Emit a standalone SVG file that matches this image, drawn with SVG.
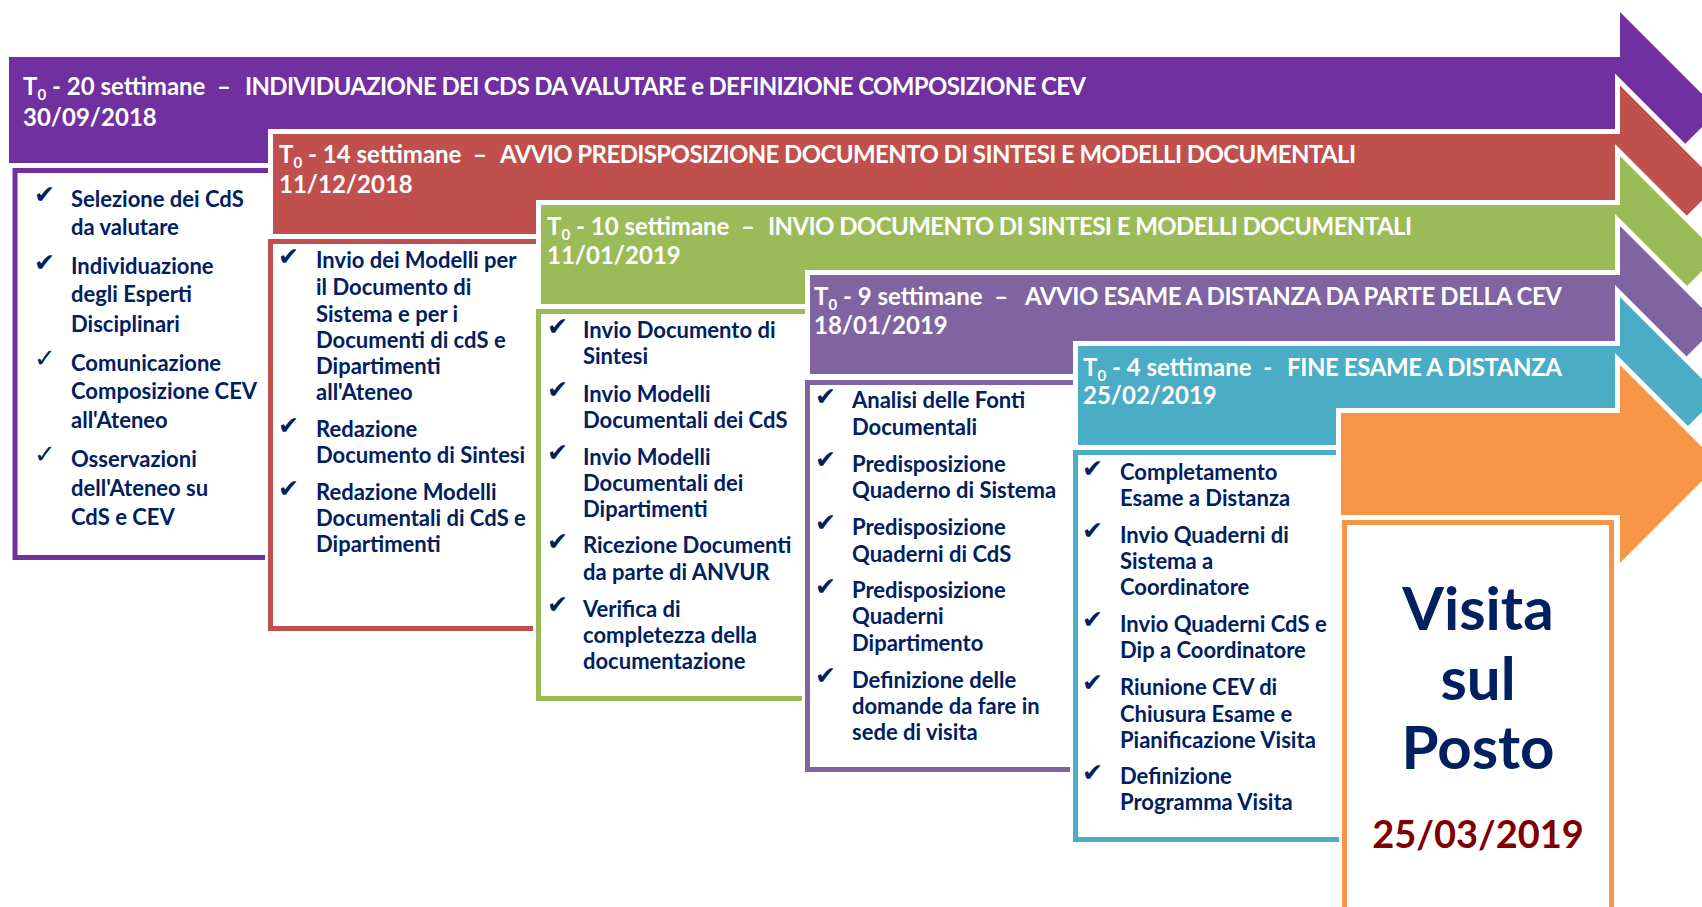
<svg xmlns="http://www.w3.org/2000/svg" width="1702" height="907" viewBox="0 0 1702 907">
<style>
.arrow { stroke: #ffffff; stroke-width: 10; paint-order: stroke; stroke-linejoin: miter; }
.halo { fill: #ffffff; stroke: #ffffff; stroke-width: 11; }
.box { fill: #ffffff; stroke-width: 5; }
.hd { font-family: Lato, "Open Sans", "Liberation Sans", sans-serif; font-weight: bold; font-size: 24px; fill: #ffffff; white-space: pre; }
.sub { font-size: 15px; }
.li { font-family: Lato, "Open Sans", "Liberation Sans", sans-serif; font-weight: bold; font-size: 22px; fill: #002060; }
.ck { font-family: "DejaVu Sans", sans-serif; font-size: 25px; fill: #002060; }
.ckl { font-family: "DejaVu Sans", sans-serif; font-size: 26px; fill: #002060; }
.big { font-family: Lato, "Open Sans", "Liberation Sans", sans-serif; font-weight: bold; font-size: 60px; fill: #002060; text-anchor: middle; }
.date { font-family: Lato, "Open Sans", "Liberation Sans", sans-serif; font-weight: bold; font-size: 38px; fill: #7F0000; text-anchor: middle; }
</style>
<rect width="1702" height="907" fill="#ffffff"/>

<g id="stage1">
<polygon class="arrow" fill="#7030A0" points="9,57 1620,57 1620,12 1718.5,110.5 1620,209 1620,163 9,163"/>
<text class="hd" x="23" y="95">T<tspan class="sub" dy="5">0</tspan><tspan dy="-5"> - 20 settimane  –</tspan></text>
<text class="hd" x="245" y="95" textLength="841" lengthAdjust="spacing">INDIVIDUAZIONE DEI CDS DA VALUTARE e DEFINIZIONE COMPOSIZIONE CEV</text>
<text class="hd" x="23" y="126">30/09/2018</text>
<rect class="halo" x="15" y="170.5" width="275" height="387"/>
<rect class="box" stroke="#7030A0" x="15" y="170.5" width="275" height="387"/>
<text class="ck" x="34" y="203">✔</text>
<text class="li" x="71" y="206.7">Selezione dei CdS</text>
<text class="li" x="71" y="235">da valutare</text>
<text class="ck" x="34" y="271">✔</text>
<text class="li" x="71" y="274">Individuazione</text>
<text class="li" x="71" y="302">degli Esperti</text>
<text class="li" x="71" y="331.7">Disciplinari</text>
<text class="ckl" x="34" y="367">✓</text>
<text class="li" x="71" y="370.7">Comunicazione</text>
<text class="li" x="71" y="399">Composizione CEV</text>
<text class="li" x="71" y="428">all'Ateneo</text>
<text class="ckl" x="34" y="463">✓</text>
<text class="li" x="71" y="467">Osservazioni</text>
<text class="li" x="71" y="496">dell'Ateneo su</text>
<text class="li" x="71" y="525">CdS e CEV</text>
</g>

<g id="stage2">
<polygon class="arrow" fill="#C0504D" points="273,134 1620,134 1620,85.5 1718.5,184 1620,282.5 1620,234 273,234"/>
<text class="hd" x="279" y="163">T<tspan class="sub" dy="5">0</tspan><tspan dy="-5"> - 14 settimane  –</tspan></text>
<text class="hd" x="500" y="163" textLength="856" lengthAdjust="spacing">AVVIO PREDISPOSIZIONE DOCUMENTO DI SINTESI E MODELLI DOCUMENTALI</text>
<text class="hd" x="279" y="193">11/12/2018</text>
<rect class="halo" x="270.5" y="241.5" width="280" height="387"/>
<rect class="box" stroke="#C0504D" x="270.5" y="241.5" width="280" height="387"/>
<text class="ck" x="278" y="265">✔</text>
<text class="li" x="316" y="268.3">Invio dei Modelli per</text>
<text class="li" x="316" y="295">il Documento di</text>
<text class="li" x="316" y="321.7">Sistema e per i</text>
<text class="li" x="316" y="347.7">Documenti di cdS e</text>
<text class="li" x="316" y="374">Dipartimenti</text>
<text class="li" x="316" y="400">all'Ateneo</text>
<text class="ck" x="278" y="434">✔</text>
<text class="li" x="316" y="437.3">Redazione</text>
<text class="li" x="316" y="463.3">Documento di Sintesi</text>
<text class="ck" x="278" y="497">✔</text>
<text class="li" x="316" y="500">Redazione Modelli</text>
<text class="li" x="316" y="526">Documentali di CdS e</text>
<text class="li" x="316" y="552.3">Dipartimenti</text>
</g>

<g id="stage3">
<polygon class="arrow" fill="#9BBB59" points="541,205 1620,205 1620,156 1718.5,254.5 1620,353 1620,304 541,304"/>
<text class="hd" x="547" y="235">T<tspan class="sub" dy="5">0</tspan><tspan dy="-5"> - 10 settimane  –</tspan></text>
<text class="hd" x="768" y="235" textLength="644" lengthAdjust="spacing">INVIO DOCUMENTO DI SINTESI E MODELLI DOCUMENTALI</text>
<text class="hd" x="547" y="263.5">11/01/2019</text>
<rect class="halo" x="538.5" y="311.5" width="280" height="387"/>
<rect class="box" stroke="#9BBB59" x="538.5" y="311.5" width="280" height="387"/>
<text class="ck" x="547" y="335">✔</text>
<text class="li" x="583" y="338.3">Invio Documento di</text>
<text class="li" x="583" y="364.3">Sintesi</text>
<text class="ck" x="547" y="398">✔</text>
<text class="li" x="583" y="401.7">Invio Modelli</text>
<text class="li" x="583" y="427.7">Documentali dei CdS</text>
<text class="ck" x="547" y="461">✔</text>
<text class="li" x="583" y="465">Invio Modelli</text>
<text class="li" x="583" y="491">Documentali dei</text>
<text class="li" x="583" y="517.3">Dipartimenti</text>
<text class="ck" x="547" y="550">✔</text>
<text class="li" x="583" y="553.3">Ricezione Documenti</text>
<text class="li" x="583" y="580">da parte di ANVUR</text>
<text class="ck" x="547" y="613">✔</text>
<text class="li" x="583" y="616.7">Verifica di</text>
<text class="li" x="583" y="643.3">completezza della</text>
<text class="li" x="583" y="669.3">documentazione</text>
</g>

<g id="stage4">
<polygon class="arrow" fill="#8064A2" points="810,275 1620,275 1620,226 1718.5,324.5 1620,423 1620,374 810,374"/>
<text class="hd" x="814" y="305">T<tspan class="sub" dy="5">0</tspan><tspan dy="-5"> - 9 settimane  –</tspan></text>
<text class="hd" x="1025" y="305" textLength="537" lengthAdjust="spacing">AVVIO ESAME A DISTANZA DA PARTE DELLA CEV</text>
<text class="hd" x="814" y="334.3">18/01/2019</text>
<rect class="halo" x="807.5" y="382.5" width="280" height="387"/>
<rect class="box" stroke="#8064A2" x="807.5" y="382.5" width="280" height="387"/>
<text class="ck" x="815" y="405">✔</text>
<text class="li" x="852" y="408.3">Analisi delle Fonti</text>
<text class="li" x="852" y="435">Documentali</text>
<text class="ck" x="815" y="468">✔</text>
<text class="li" x="852" y="471.7">Predisposizione</text>
<text class="li" x="852" y="498.3">Quaderno di Sistema</text>
<text class="ck" x="815" y="531">✔</text>
<text class="li" x="852" y="535">Predisposizione</text>
<text class="li" x="852" y="561.7">Quaderni di CdS</text>
<text class="ck" x="815" y="595">✔</text>
<text class="li" x="852" y="598.3">Predisposizione</text>
<text class="li" x="852" y="624.3">Quaderni</text>
<text class="li" x="852" y="651">Dipartimento</text>
<text class="ck" x="815" y="684">✔</text>
<text class="li" x="852" y="687.7">Definizione delle</text>
<text class="li" x="852" y="714.3">domande da fare in</text>
<text class="li" x="852" y="740">sede di visita</text>
</g>

<g id="stage5">
<polygon class="arrow" fill="#4BACC6" points="1078,346 1620,346 1620,297 1718.5,395.5 1620,494 1620,445 1078,445"/>
<text class="hd" x="1083" y="376">T<tspan class="sub" dy="5">0</tspan><tspan dy="-5"> - 4 settimane  -</tspan></text>
<text class="hd" x="1287" y="376" textLength="275" lengthAdjust="spacing">FINE ESAME A DISTANZA</text>
<text class="hd" x="1083" y="403.5">25/02/2019</text>
<rect class="halo" x="1075.5" y="452.5" width="280" height="387"/>
<rect class="box" stroke="#4BACC6" x="1075.5" y="452.5" width="280" height="387"/>
<text class="ck" x="1082" y="477">✔</text>
<text class="li" x="1120" y="480">Completamento</text>
<text class="li" x="1120" y="506">Esame a Distanza</text>
<text class="ck" x="1082" y="539">✔</text>
<text class="li" x="1120" y="542.7">Invio Quaderni di</text>
<text class="li" x="1120" y="569">Sistema a</text>
<text class="li" x="1120" y="595">Coordinatore</text>
<text class="ck" x="1082" y="628">✔</text>
<text class="li" x="1120" y="631.7">Invio Quaderni CdS e</text>
<text class="li" x="1120" y="658.3">Dip a Coordinatore</text>
<text class="ck" x="1082" y="691">✔</text>
<text class="li" x="1120" y="695">Riunione CEV di</text>
<text class="li" x="1120" y="721.7">Chiusura Esame e</text>
<text class="li" x="1120" y="747.7">Pianificazione Visita</text>
<text class="ck" x="1082" y="781">✔</text>
<text class="li" x="1120" y="784.3">Definizione</text>
<text class="li" x="1120" y="810">Programma Visita</text>
</g>

<g id="stage6">
<polygon class="arrow" fill="#F79646" points="1341,413 1620,413 1620,365 1719,464 1620,563 1620,515 1341,515"/>
<rect class="halo" x="1344.5" y="522.5" width="267" height="400"/>
<rect class="box" stroke="#F79646" x="1344.5" y="522.5" width="267" height="400"/>
<text class="big" x="1478" y="630">Visita</text>
<text class="big" x="1478" y="700">sul</text>
<text class="big" x="1478" y="769">Posto</text>
<text class="date" x="1478" y="848">25/03/2019</text>
</g>
</svg>
